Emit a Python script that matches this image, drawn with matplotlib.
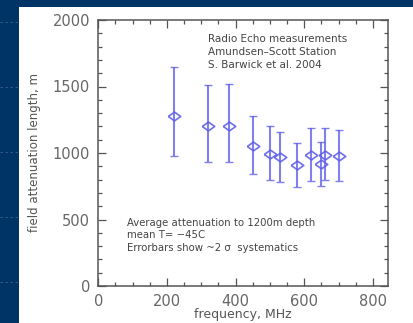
import numpy as np
import matplotlib.pyplot as plt
from matplotlib.patches import Rectangle
from matplotlib.ticker import MultipleLocator

freq = [220, 320, 380, 450, 500, 530, 580, 620, 650, 660, 700]
att_len = [1280, 1200, 1205, 1050, 995, 970, 910, 985, 915, 985, 975]
err_hi = [1645, 1510, 1520, 1280, 1205, 1160, 1075, 1190, 1085, 1190, 1170]
err_lo = [980, 935, 935, 840, 800, 785, 745, 790, 750, 795, 790]

top_note = ["Radio Echo measurements", "Amundsen\u2013Scott Station", "S. Barwick et al. 2004"]
bottom_note = ["Average attenuation to 1200m depth", "mean T= \u221245C", "Errorbars show ~2 \u03c3  systematics"]

navy = '#003366'
grey = '#555555'
blue = '#6060ea'

fig = plt.figure(figsize=(4.13, 3.23), dpi=100)
fig.patch.set_facecolor(navy)

# white slide panel
fig.add_artist(Rectangle((19/413, 0), 1 - 19/413, 1 - 7/323, transform=fig.transFigure,
                         facecolor='white', edgecolor='none', zorder=-5))
# faint dashed template lines on the navy margin
for yp in [22, 87, 152, 217, 282]:
    fig.add_artist(plt.Line2D([0, 19/413], [1 - yp/323]*2, transform=fig.transFigure,
                              color='#3a6190', lw=0.6, ls=(0, (3, 3)), zorder=-4))

ax = fig.add_axes([98.3/413, 1 - 286/323, 290/413, 266/323])
ax.set_facecolor('white')

# slightly flattened diamond, as in the original
diamond = [(-1, 0), (0, 0.7), (1, 0), (0, -0.7), (-1, 0)]

y = np.array(att_len)
yerr = [y - np.array(err_lo), np.array(err_hi) - y]
ax.errorbar(freq, y, yerr=yerr, fmt='none', ecolor=blue, elinewidth=1.5,
            capsize=3, capthick=1.0, alpha=0.8)
ax.plot(freq, y, ls='none', marker=diamond, mfc='none', mec=blue, ms=9, mew=1.2, alpha=0.9)

ax.set_xlim(0, 845)
ax.set_ylim(0, 2000)
ax.xaxis.set_major_locator(MultipleLocator(200))
ax.xaxis.set_minor_locator(MultipleLocator(50))
ax.yaxis.set_major_locator(MultipleLocator(500))
ax.yaxis.set_minor_locator(MultipleLocator(100))
ax.tick_params(which='both', direction='in', top=True, right=True, colors=grey,
               labelsize=10.5, labelcolor='#666666', width=0.9)
ax.tick_params(which='major', length=6, pad=6)
ax.tick_params(which='minor', length=3)
for s in ax.spines.values():
    s.set_color(grey)
    s.set_linewidth(1.1)

ax.set_xlabel('frequency, MHz', fontsize=9, color=grey, labelpad=-1)
ax.set_ylabel('field attenuation length, m', fontsize=8.5, color=grey, labelpad=8)

for i, t in enumerate(top_note):
    ax.text(320, 1860 - i*100, t, fontsize=7.5, color='#444444', va='center')
for i, t in enumerate(bottom_note):
    ax.text(84, 475 - i*95, t, fontsize=7.3, color='#444444', va='center')

fig.savefig('out.png', dpi=100, facecolor=fig.get_facecolor())
